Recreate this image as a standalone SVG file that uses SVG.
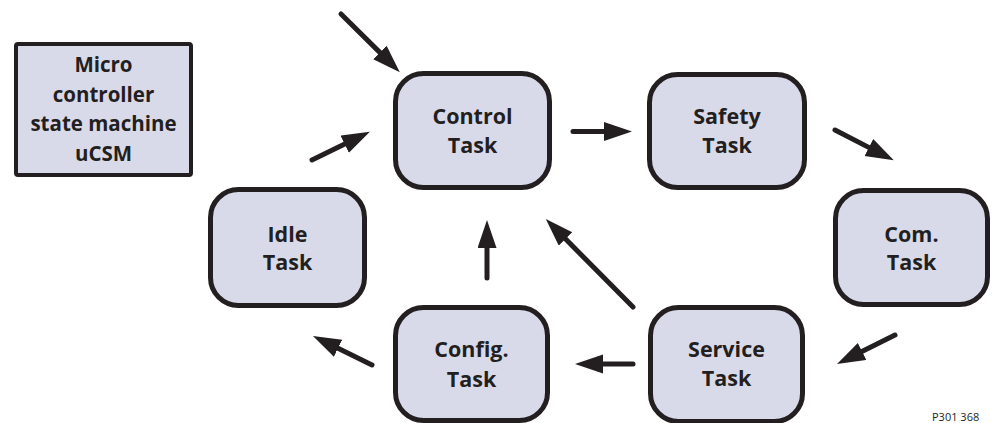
<svg xmlns="http://www.w3.org/2000/svg" width="992" height="423" viewBox="0 0 992 423">
<style>
.box{fill:#d9dae9;stroke:#231f20;stroke-width:5}
.lbl{font-family:"Open Sans","Liberation Sans",sans-serif;font-weight:bold;font-size:21.5px;fill:#231f20;text-anchor:middle}
.arr{stroke:#231f20;stroke-width:5;stroke-linecap:round;fill:none;marker-end:url(#ah)}
</style>
<defs>
<marker id="ah" markerUnits="userSpaceOnUse" markerWidth="30" markerHeight="20" refX="8" refY="9.5" orient="auto">
<path d="M0,0 L28,9.5 L0,19 z" fill="#231f20"/>
</marker>
</defs>
<rect width="992" height="423" fill="#ffffff"/>
<g id="ucsm">
<rect x="16" y="44" width="175" height="131" rx="2" fill="#d9dae9" stroke="#231f20" stroke-width="4"/>
<text class="lbl" style="font-size:20.5px" x="103.5" y="72">Micro</text>
<text class="lbl" style="font-size:20.5px" x="103.5" y="101.5">controller</text>
<text class="lbl" style="font-size:20.5px" x="103.5" y="131">state machine</text>
<text class="lbl" style="font-size:20.5px" x="103.5" y="160.5">uCSM</text>
</g>
<g id="control">
<rect class="box" x="395.5" y="73.5" width="154" height="114" rx="28"/>
<text class="lbl" x="472.5" y="124">Control</text>
<text class="lbl" x="472.5" y="153">Task</text>
</g>
<g id="safety">
<rect class="box" x="649.5" y="74.5" width="155" height="113" rx="28"/>
<text class="lbl" x="727" y="124">Safety</text>
<text class="lbl" x="727" y="153">Task</text>
</g>
<g id="com">
<rect class="box" x="835.5" y="190.5" width="152" height="114" rx="28"/>
<text class="lbl" x="911.5" y="242">Com.</text>
<text class="lbl" x="911.5" y="270">Task</text>
</g>
<g id="service">
<rect class="box" x="650.5" y="307.5" width="152" height="114" rx="28"/>
<text class="lbl" x="726.5" y="357">Service</text>
<text class="lbl" x="726.5" y="386">Task</text>
</g>
<g id="config">
<rect class="box" x="395.5" y="307.5" width="152" height="113" rx="28"/>
<text class="lbl" x="471.5" y="357">Config.</text>
<text class="lbl" x="471.5" y="387">Task</text>
</g>
<g id="idle">
<rect class="box" x="210.5" y="189.5" width="154" height="116" rx="28"/>
<text class="lbl" x="287.5" y="242">Idle</text>
<text class="lbl" x="287.5" y="270">Task</text>
</g>
<g id="connectors">
<line class="arr" x1="341" y1="14" x2="385.6" y2="58.1"/>
<line class="arr" x1="312" y1="160" x2="351.9" y2="140.6"/>
<line class="arr" x1="573" y1="131.5" x2="612" y2="131.5"/>
<line class="arr" x1="835" y1="130" x2="876" y2="151.1"/>
<line class="arr" x1="895" y1="335" x2="854.9" y2="355"/>
<line class="arr" x1="633" y1="364" x2="595" y2="364"/>
<line class="arr" x1="633" y1="307" x2="559.9" y2="233.3"/>
<line class="arr" x1="487" y1="278" x2="487" y2="240"/>
<line class="arr" x1="372" y1="365" x2="330.9" y2="344.8"/>
</g>
<text x="932" y="421" font-family="'Open Sans','Liberation Sans',sans-serif" font-size="11" fill="#231f20">P301 368</text>
</svg>
